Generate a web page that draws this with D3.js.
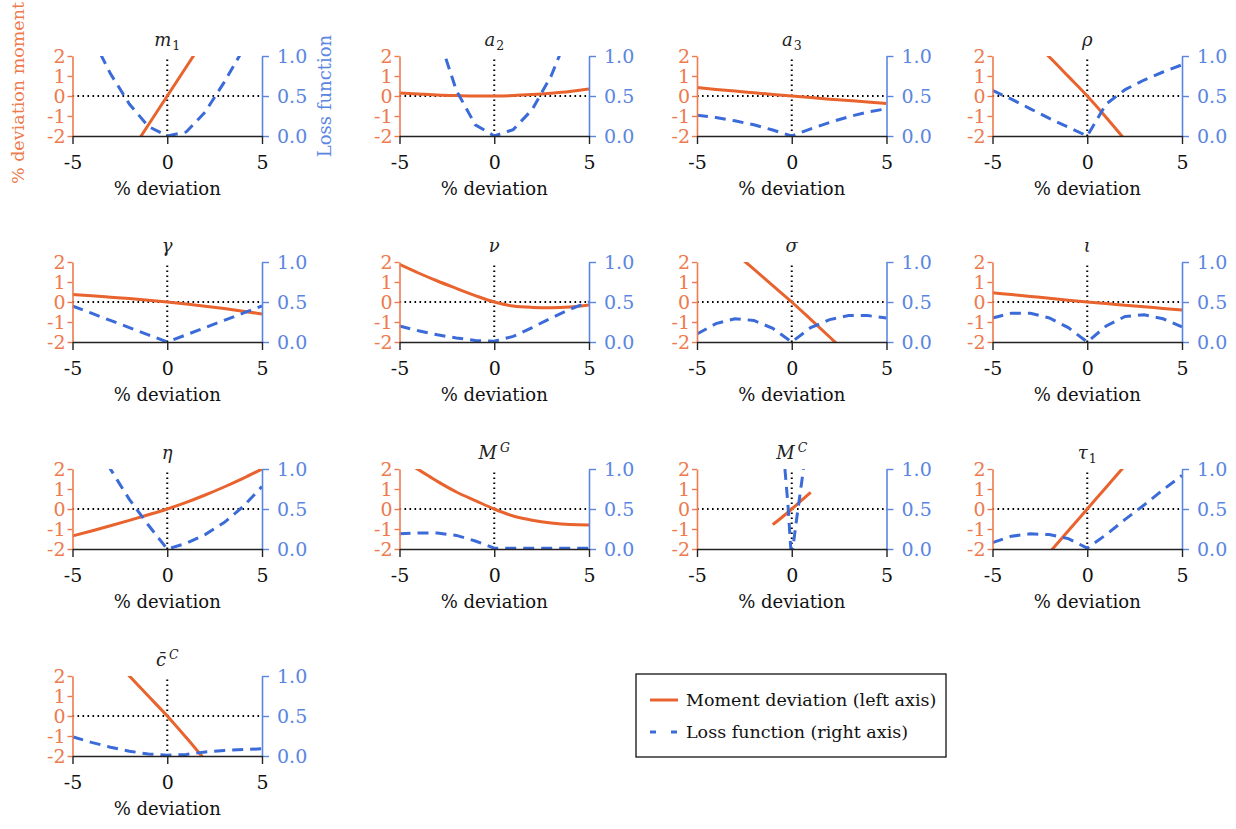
<!DOCTYPE html>
<html><head><meta charset="utf-8">
<script src="https://cdn.jsdelivr.net/npm/d3@7"></script>
<style>body{margin:0;background:#fff} svg{display:block} text{font-family:"DejaVu Serif",serif}</style>
</head><body><svg id="c" width="1236" height="829"></svg>
<script>
// ---------- data ----------
const xGrid = [-5,-4,-3,-2,-1,0,1,2,3,4,5];
const titleBase   = ["m","a","a","ρ","γ","ν","σ","ι","η","M","M","τ","c̄"];
const titleScript = ["1","2","3","","","","","","","G","C","1","C"];
const titleKind   = ["sub","sub","sub","","","","","","","sup","sup","sub","sup"];

const momentM1  = [-7.25,-5.8,-4.35,-2.9,-1.45,0,1.45,2.9,4.35,5.8,7.25];
const lossM1    = [1.6,1.25,0.78,0.4,0.12,0,0.05,0.3,0.67,1.08,1.5];
const momentA2  = [0.15,0.1,0.05,0.02,0.0,0,0.02,0.07,0.14,0.23,0.35];
const lossA2    = [3.6,2.3,1.29,0.57,0.14,0,0.08,0.33,0.75,1.33,2.08];
const momentA3  = [0.42,0.33,0.25,0.16,0.08,0,-0.08,-0.16,-0.23,-0.3,-0.38];
const lossA3    = [0.26,0.23,0.19,0.14,0.075,0,0.09,0.17,0.24,0.3,0.34];
const momentRho = [4.6,3.75,2.85,1.95,0.98,0,-1.07,-2.2,-3.4,-4.6,-5.8];
const lossRho   = [0.57,0.46,0.34,0.22,0.11,0,0.4,0.58,0.7,0.8,0.89];
const momentGam = [0.37,0.31,0.24,0.17,0.09,0,-0.1,-0.21,-0.33,-0.46,-0.6];
const lossGam   = [0.45,0.36,0.27,0.18,0.09,0,0.09,0.18,0.27,0.36,0.45];
const momentNu  = [1.88,1.45,1.05,0.68,0.32,0,-0.2,-0.27,-0.29,-0.25,-0.15];
const lossNu    = [0.2,0.14,0.09,0.05,0.02,0.01,0.07,0.18,0.3,0.41,0.5];
const momentSig = [4.1,3.28,2.46,1.64,0.82,0,-0.87,-1.75,-2.64,-3.52,-4.4];
const lossSig   = [0.1,0.23,0.29,0.27,0.17,0,0.18,0.28,0.33,0.33,0.3];
const momentIot = [0.46,0.37,0.28,0.19,0.09,0,-0.08,-0.16,-0.24,-0.32,-0.4];
const lossIot   = [0.3,0.36,0.36,0.3,0.18,0,0.2,0.32,0.34,0.29,0.19];
const momentEta = [-1.35,-1.1,-0.84,-0.57,-0.29,0,0.33,0.7,1.1,1.53,2.0];
const lossEta   = [2.1,1.55,1.0,0.62,0.3,0,0.07,0.18,0.33,0.53,0.78];
const momentMG  = [2.5,1.97,1.38,0.85,0.42,0,-0.35,-0.56,-0.7,-0.78,-0.8];
const lossMG    = [0.19,0.2,0.2,0.17,0.1,0.01,0.01,0.01,0.01,0.01,0.01];
const xMomentMC = [-1,-0.5,0,0.5,1];
const momentMC  = [-0.78,-0.4,0,0.42,0.83];
const xLossMC   = [-0.36,-0.2,-0.05,0.05,0.3,0.62];
const lossMC    = [1.0,0.55,0.0,0.0,0.45,1.0];
const momentTau = [-5.45,-4.36,-3.27,-2.18,-1.09,0,1.09,2.18,3.27,4.36,5.45];
const lossTau   = [0.08,0.16,0.19,0.18,0.13,0.01,0.18,0.37,0.55,0.74,0.92];
const momentCC  = [5.1,4.05,3.02,2.0,1.0,0,-1.08,-2.2,-3.3,-4.4,-5.5];
const lossCC    = [0.24,0.17,0.11,0.06,0.025,0.01,0.02,0.05,0.07,0.08,0.09];

const xTicks = [-5,0,5];
const leftTicks = [-2,-1,0,1,2];
const rightTicks = [0,0.5,1];

const momentSeries = [momentM1,momentA2,momentA3,momentRho,momentGam,momentNu,momentSig,momentIot,momentEta,momentMG,momentMC,momentTau,momentCC];
const lossSeries   = [lossM1,lossA2,lossA3,lossRho,lossGam,lossNu,lossSig,lossIot,lossEta,lossMG,lossMC,lossTau,lossCC];
const momentX = momentSeries.map((s,i)=> i===10 ? xMomentMC : xGrid);
const lossX   = lossSeries.map((s,i)=> i===10 ? xLossMC : xGrid);

// ---------- layout ----------
const colX = [72.5, 399.5, 697, 992.5];
const rowY = [56, 262, 469, 676];
const W = 189.5, H = 80;
const ORANGE = "#E8632E", ORANGE_AX = "#EE7A4E";
const BLUE = "#3B6AD9", BLUE_AX = "#5A86E2";
const fmtL = d => d < 0 ? "-" + Math.abs(d) : String(d);
const TICKFS = "19px";

const svg = d3.select("#c");

momentSeries.forEach((mom, i) => {
  const r = Math.floor(i/4), c = i%4;
  const g = svg.append("g").attr("transform", `translate(${colX[c]},${rowY[r]})`);
  const x = d3.scaleLinear().domain([-5,5]).range([0,W]);
  const yL = d3.scaleLinear().domain([-2,2]).range([H,0]);
  const yR = d3.scaleLinear().domain([0,1]).range([H,0]);

  const cid = "clip"+i;
  g.append("clipPath").attr("id", cid).append("rect").attr("x",0).attr("y",0).attr("width",W).attr("height",H);

  // dotted reference lines
  g.append("line").attr("x1",x(-5)).attr("x2",x(5)).attr("y1",yL(0)).attr("y2",yL(0))
    .attr("stroke","#000").attr("stroke-width",2).attr("stroke-dasharray","1.6,3.4");
  g.append("line").attr("x1",x(0)).attr("x2",x(0)).attr("y1",yL(-2)).attr("y2",yL(2))
    .attr("stroke","#000").attr("stroke-width",2).attr("stroke-dasharray","1.6,3.4");

  const cg = g.append("g").attr("clip-path", `url(#${cid})`);
  const mx = momentX[i];
  cg.append("path").datum(mom.map((v,k)=>[mx[k],v]))
    .attr("fill","none").attr("stroke",ORANGE).attr("stroke-width",3)
    .attr("d", d3.line().x(d=>x(d[0])).y(d=>yL(d[1])).curve(d3.curveMonotoneX));
  const lx = lossX[i];
  cg.append("path").datum(lossSeries[i].map((v,k)=>[lx[k],v]))
    .attr("fill","none").attr("stroke",BLUE).attr("stroke-width",3)
    .attr("stroke-dasharray","11,7")
    .attr("d", d3.line().x(d=>x(d[0])).y(d=>yR(d[1])));

  // left axis
  const la = g.append("g").call(d3.axisLeft(yL).tickValues(leftTicks).tickFormat(fmtL).tickSize(5).tickSizeOuter(0).tickPadding(2));
  la.select(".domain").attr("stroke",ORANGE_AX).attr("stroke-width",1.6);
  la.selectAll(".tick line").attr("stroke",ORANGE_AX).attr("stroke-width",1.4);
  la.selectAll(".tick text").attr("fill",ORANGE_AX).style("font-size",TICKFS).style("font-family","DejaVu Serif");

  // right axis
  const ra = g.append("g").attr("transform",`translate(${W},0)`)
    .call(d3.axisRight(yR).tickValues(rightTicks).tickFormat(d3.format(".1f")).tickSize(7).tickSizeOuter(0).tickPadding(8));
  ra.select(".domain").attr("stroke",BLUE_AX).attr("stroke-width",1.6);
  ra.selectAll(".tick line").attr("stroke",BLUE_AX).attr("stroke-width",1.4);
  ra.selectAll(".tick text").attr("fill",BLUE_AX).style("font-size",TICKFS).style("font-family","DejaVu Serif");

  // bottom axis
  const ba = g.append("g").attr("transform",`translate(0,${H})`)
    .call(d3.axisBottom(x).tickValues(xTicks).tickFormat(fmtL).tickSize(8).tickSizeOuter(0).tickPadding(12));
  ba.select(".domain").attr("stroke","#222").attr("stroke-width",1.6);
  ba.selectAll(".tick line").attr("stroke","#222").attr("stroke-width",1.4);
  ba.selectAll(".tick text").attr("fill","#111").style("font-size",TICKFS).style("font-family","DejaVu Serif");

  g.append("text").attr("x",W/2).attr("y",H+59).attr("text-anchor","middle")
    .style("font-size","18px").attr("fill","#111").text("% deviation");

  // title
  const t = g.append("text").attr("x",W/2).attr("y",-10).attr("text-anchor","middle")
    .style("font-size","18px").style("font-style","italic").attr("fill","#222");
  t.append("tspan").text(titleBase[i]);
  if (titleScript[i]) {
    const isSup = titleKind[i] === "sup";
    t.append("tspan").attr("dx", isSup ? 3 : 1).attr("dy", isSup ? -7 : 4)
      .style("font-size","12.5px").style("font-style", isSup ? "italic" : "normal").text(titleScript[i]);
  }
});

// axis titles (first panel)
svg.append("text").attr("transform","translate(24,93) rotate(-90)").attr("text-anchor","middle")
  .style("font-size","17.5px").attr("fill",ORANGE_AX).text("% deviation moment");
svg.append("text").attr("transform","translate(331,96) rotate(-90)").attr("text-anchor","middle")
  .style("font-size","18px").attr("fill",BLUE_AX).text("Loss function");

// legend
const lg = svg.append("g");
lg.append("rect").attr("x",636).attr("y",674).attr("width",310).attr("height",83)
  .attr("fill","#fff").attr("stroke","#111").attr("stroke-width",1.3);
lg.append("line").attr("x1",650).attr("x2",678).attr("y1",700).attr("y2",700)
  .attr("stroke",ORANGE).attr("stroke-width",3);
lg.append("line").attr("x1",650).attr("x2",678).attr("y1",732).attr("y2",732)
  .attr("stroke",BLUE).attr("stroke-width",3).attr("stroke-dasharray","6,15");
lg.append("text").attr("x",686).attr("y",706).style("font-size","17.5px").attr("fill","#111").text("Moment deviation (left axis)");
lg.append("text").attr("x",686).attr("y",738).style("font-size","17.5px").attr("fill","#111").text("Loss function (right axis)");
</script></body></html>
